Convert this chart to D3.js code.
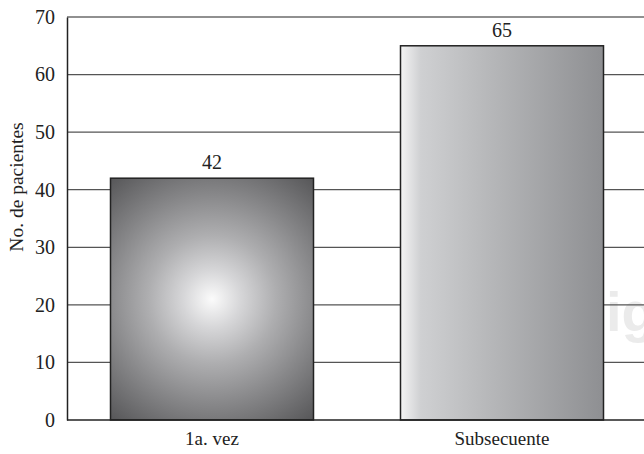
<!DOCTYPE html>
<html>
<head>
<meta charset="utf-8">
<script src="https://cdn.jsdelivr.net/npm/d3@7"></script>
<style>
  html, body { margin: 0; padding: 0; background: #fff; }
  svg { display: block; }
  text { font-family: "Liberation Serif", "Times New Roman", serif; fill: #222; }
</style>
</head>
<body>
<script>
// Visit types and number of patients
const categories = ["1a. vez", "Subsecuente"];
const values = [42, 65];
const yTicks = [0, 10, 20, 30, 40, 50, 60, 70];
const yLabel = "No. de pacientes";

const W = 644, H = 454;
const margin = { top: 17, right: -3, bottom: 34, left: 67 };

const svg = d3.select("body").append("svg")
  .attr("width", W).attr("height", H);

const defs = svg.append("defs");

const x = d3.scaleBand()
  .domain(categories)
  .range([margin.left, W - margin.right])
  .paddingInner(0.3)
  .paddingOuter(0.15);

const y = d3.scaleLinear()
  .domain([0, 70])
  .range([H - margin.bottom, margin.top]);

// Radial shading for the first bar, centred on the bar
const cxA = x(categories[0]) + x.bandwidth() / 2;
const cyA = (y(values[0]) + y(0)) / 2;
const rg = defs.append("radialGradient")
  .attr("id", "gradA")
  .attr("gradientUnits", "userSpaceOnUse")
  .attr("cx", cxA).attr("cy", cyA).attr("r", 160)
  .attr("fx", cxA).attr("fy", cyA);
rg.append("stop").attr("offset", "0%").attr("stop-color", "#fbfbfb");
rg.append("stop").attr("offset", "18%").attr("stop-color", "#d6d6d8");
rg.append("stop").attr("offset", "40%").attr("stop-color", "#aeaeb0");
rg.append("stop").attr("offset", "65%").attr("stop-color", "#88888a");
rg.append("stop").attr("offset", "100%").attr("stop-color", "#545456");

// Horizontal shading for the second bar
const lg = defs.append("linearGradient")
  .attr("id", "gradB")
  .attr("x1", 0).attr("x2", 1).attr("y1", 0).attr("y2", 0);
lg.append("stop").attr("offset", "0%").attr("stop-color", "#f4f4f4");
lg.append("stop").attr("offset", "10%").attr("stop-color", "#cfd0d2");
lg.append("stop").attr("offset", "40%").attr("stop-color", "#b9babc");
lg.append("stop").attr("offset", "100%").attr("stop-color", "#8e8f92");

// Faint background lettering
svg.append("text")
  .attr("x", 606).attr("y", 331)
  .style("font-family", "'Liberation Sans', Arial, sans-serif")
  .style("font-weight", "bold")
  .style("font-size", "56px")
  .style("fill", "#ebebeb")
  .text("ig");

// Horizontal gridlines
svg.append("g")
  .selectAll("line")
  .data(yTicks.filter(t => t > 0 && t < 70))
  .join("line")
  .attr("x1", margin.left).attr("x2", W)
  .attr("y1", d => y(d)).attr("y2", d => y(d))
  .attr("stroke", "#555").attr("stroke-width", 1.2);

// Top frame line
svg.append("line")
  .attr("x1", margin.left).attr("x2", W)
  .attr("y1", y(70)).attr("y2", y(70))
  .attr("stroke", "#222").attr("stroke-width", 1.2);

// Bars
const fills = ["url(#gradA)", "url(#gradB)"];
svg.append("g")
  .selectAll("rect")
  .data(values)
  .join("rect")
  .attr("x", (d, i) => x(categories[i]))
  .attr("width", x.bandwidth())
  .attr("y", d => y(d))
  .attr("height", d => y(0) - y(d))
  .attr("fill", (d, i) => fills[i])
  .attr("stroke", "#222").attr("stroke-width", 1.5);

// Value labels
svg.append("g")
  .selectAll("text")
  .data(values)
  .join("text")
  .attr("x", (d, i) => x(categories[i]) + x.bandwidth() / 2)
  .attr("y", d => y(d) - 9)
  .attr("text-anchor", "middle")
  .style("font-size", "20px")
  .text(d => d);

// Y axis
const yAxis = d3.axisLeft(y).tickValues(yTicks).tickSize(0).tickPadding(12);
const gy = svg.append("g")
  .attr("transform", `translate(${margin.left},0)`)
  .call(yAxis);
gy.select(".domain").attr("stroke", "#222").attr("stroke-width", 1.5);
gy.selectAll("text")
  .style("font-family", "'Liberation Serif', 'Times New Roman', serif")
  .style("font-size", "20px").attr("fill", "#222");

// X axis
const xAxis = d3.axisBottom(x).tickSize(0).tickPadding(12);
const gx = svg.append("g")
  .attr("transform", `translate(0,${y(0)})`)
  .call(xAxis);
gx.select(".domain").attr("d", `M${margin.left},0H${W}`)
  .attr("stroke", "#222").attr("stroke-width", 1.5);
gx.selectAll("text")
  .style("font-family", "'Liberation Serif', 'Times New Roman', serif")
  .style("font-size", "19px").attr("fill", "#222");

// Y axis title
svg.append("text")
  .attr("transform", `translate(23,187) rotate(-90)`)
  .attr("text-anchor", "middle")
  .style("font-size", "19.5px")
  .text(yLabel);
</script>
</body>
</html>
